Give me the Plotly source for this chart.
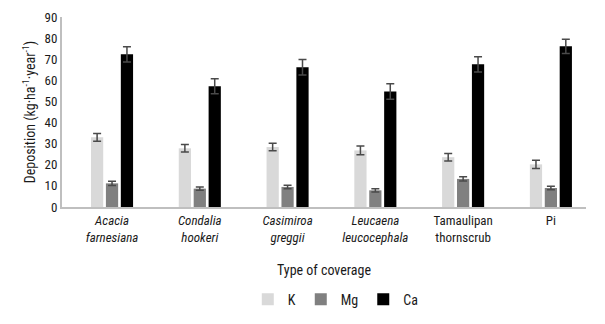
import plotly.graph_objects as go

categories = ["<i>Acacia</i><br><i>farnesiana</i>", "<i>Condalia</i><br><i>hookeri</i>",
              "<i>Casimiroa</i><br><i>greggii</i>", "<i>Leucaena</i><br><i>leucocephala</i>",
              "Tamaulipan<br>thornscrub", "Pi"]
K = [33.0, 27.8, 28.4, 26.8, 23.6, 20.2]
Mg = [11.2, 8.7, 9.5, 7.9, 13.3, 9.0]
Ca = [72.3, 57.2, 66.2, 54.7, 67.6, 76.1]
K_err = [1.8, 1.8, 1.8, 2.1, 1.8, 2.0]
Mg_err = [1.0, 0.8, 0.8, 0.8, 1.0, 0.8]
Ca_err = [3.6, 3.6, 3.7, 3.7, 3.6, 3.4]

FONT = "Liberation Sans Narrow, Arial Narrow, Roboto Condensed, Liberation Sans, sans-serif"

fig = go.Figure()
for name, vals, errs, col in [("K", K, K_err, "#d9d9d9"), ("Mg", Mg, Mg_err, "#808080"), ("Ca", Ca, Ca_err, "#000000")]:
    fig.add_trace(go.Bar(
        name=name, x=categories, y=vals, marker=dict(color=col, line=dict(width=0)),
        error_y=dict(type="data", array=errs, visible=True, color="#4a4a4a", thickness=1.5, width=4),
    ))

fig.update_layout(
    width=605, height=324,
    margin=dict(l=62, r=19, t=17, b=117, autoexpand=False),
    plot_bgcolor="white", paper_bgcolor="white",
    barmode="group", bargap=0.49, bargroupgap=0.18,
    font=dict(family=FONT, size=12, color="#1a1a1a"),
    xaxis=dict(range=[-0.57, 5.4], showline=True, linecolor="#bfbfbf", linewidth=2,
               ticks="", tickfont=dict(size=13), showgrid=False, automargin=False,
               title=dict(text="Type of coverage", font=dict(size=14), standoff=22)),
    yaxis=dict(range=[0, 90], dtick=10, showline=True, linecolor="#bfbfbf", linewidth=2,
               ticks="", showgrid=False, zeroline=False, tickfont=dict(size=13), automargin=False,
               title=dict(text="Deposition (kg·ha<sup>-1</sup>·year<sup>-1</sup>)", font=dict(size=14), standoff=6)),
    legend=dict(orientation="h", x=0.555, xanchor="center", xref="container",
                y=0.075, yanchor="middle", yref="container",
                font=dict(size=14), itemwidth=30, traceorder="normal"),
)

fig.write_html("out.html", config={"displayModeBar": False},
               post_script="document.body.style.margin='0';")
